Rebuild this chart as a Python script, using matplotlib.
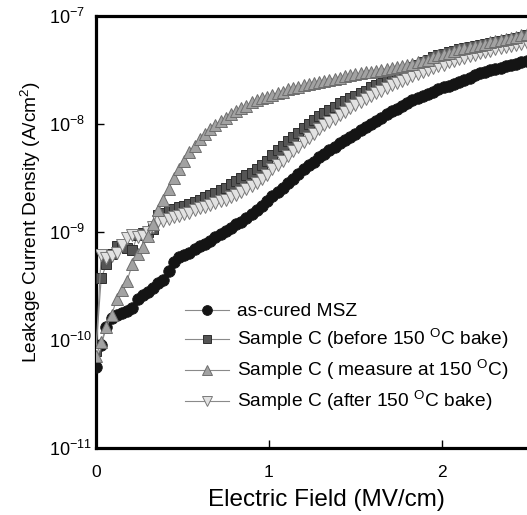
import numpy as np
import matplotlib
matplotlib.use("Agg")
import matplotlib.pyplot as plt
from matplotlib.ticker import FixedLocator, LogFormatterMathtext, NullLocator

plt.rcParams['font.family'] = ['Liberation Sans', 'DejaVu Sans']
plt.rcParams['mathtext.fontset'] = 'custom'
plt.rcParams['mathtext.rm'] = 'Liberation Sans'
plt.rcParams['mathtext.it'] = 'Liberation Sans:italic'
plt.rcParams['mathtext.bf'] = 'Liberation Sans:bold'

# Electric field sweep (MV/cm)
field = np.round(np.arange(0, 84) * 0.03, 2)

# log10 of leakage current density (A/cm^2)
log_as_cured = [
    -10.25, -10.05, -9.88, -9.80, -9.77, -9.75, -9.73, -9.70, -9.62, -9.58,
    -9.56, -9.52, -9.47, -9.44, -9.36, -9.28, -9.23, -9.21, -9.19, -9.16,
    -9.13, -9.11, -9.08, -9.05, -9.02, -8.99, -8.96, -8.93, -8.91, -8.87,
    -8.83, -8.80, -8.76, -8.71, -8.67, -8.63, -8.59, -8.55, -8.51, -8.46,
    -8.42, -8.38, -8.35, -8.31, -8.28, -8.24, -8.21, -8.18, -8.15, -8.12,
    -8.09, -8.06, -8.03, -8.00, -7.97, -7.94, -7.91, -7.88, -7.86, -7.83,
    -7.81, -7.78, -7.76, -7.74, -7.72, -7.70, -7.68, -7.66, -7.65, -7.63,
    -7.61, -7.59, -7.57, -7.55, -7.53, -7.52, -7.50, -7.49, -7.48, -7.46,
    -7.45, -7.44, -7.43, -7.42]

log_before_bake = [
    -10.10, -9.43, -9.30, -9.20, -9.13, -9.12, -9.15, -9.17, -9.03, -9.01,
    -9.00, -8.97, -8.84, -8.82, -8.80, -8.79, -8.77, -8.76, -8.74, -8.72,
    -8.70, -8.68, -8.66, -8.64, -8.61, -8.59, -8.56, -8.53, -8.50, -8.47,
    -8.45, -8.42, -8.38, -8.34, -8.29, -8.24, -8.20, -8.16, -8.12, -8.08,
    -8.04, -8.00, -7.96, -7.93, -7.90, -7.87, -7.84, -7.81, -7.79, -7.76,
    -7.74, -7.71, -7.69, -7.66, -7.64, -7.62, -7.59, -7.57, -7.55, -7.52,
    -7.50, -7.47, -7.45, -7.43, -7.41, -7.38, -7.36, -7.35, -7.33, -7.32,
    -7.31, -7.30, -7.29, -7.28, -7.27, -7.26, -7.25, -7.24, -7.23, -7.22,
    -7.21, -7.20, -7.19, -7.18]

log_at_150 = [
    -10.15, -10.02, -9.88, -9.77, -9.62, -9.54, -9.45, -9.30, -9.20, -9.14,
    -9.04, -8.93, -8.80, -8.70, -8.60, -8.50, -8.42, -8.34, -8.26, -8.20,
    -8.14, -8.09, -8.05, -8.01, -7.97, -7.94, -7.91, -7.88, -7.85, -7.83,
    -7.80, -7.78, -7.76, -7.75, -7.73, -7.71, -7.70, -7.68, -7.67, -7.66,
    -7.64, -7.63, -7.62, -7.61, -7.60, -7.59, -7.58, -7.57, -7.56, -7.55,
    -7.54, -7.53, -7.52, -7.52, -7.51, -7.50, -7.49, -7.48, -7.47, -7.46,
    -7.45, -7.44, -7.43, -7.42, -7.41, -7.38, -7.36, -7.35, -7.34, -7.32,
    -7.31, -7.30, -7.29, -7.28, -7.27, -7.26, -7.24, -7.23, -7.22, -7.21,
    -7.20, -7.19, -7.18, -7.17]

log_after_bake = [
    -10.10, -9.21, -9.24, -9.22, -9.19, -9.12, -9.06, -9.03, -9.05, -9.04,
    -9.00, -8.95, -8.90, -8.90, -8.88, -8.86, -8.85, -8.83, -8.82, -8.80,
    -8.78, -8.77, -8.75, -8.73, -8.71, -8.70, -8.68, -8.66, -8.63, -8.60,
    -8.57, -8.55, -8.51, -8.47, -8.42, -8.38, -8.34, -8.30, -8.25, -8.21,
    -8.17, -8.13, -8.09, -8.05, -8.01, -7.98, -7.95, -7.92, -7.89, -7.85,
    -7.82, -7.80, -7.77, -7.74, -7.71, -7.69, -7.67, -7.64, -7.62, -7.60,
    -7.58, -7.56, -7.54, -7.52, -7.50, -7.48, -7.46, -7.45, -7.43, -7.42,
    -7.40, -7.39, -7.37, -7.36, -7.34, -7.33, -7.32, -7.31, -7.30, -7.29,
    -7.28, -7.27, -7.26, -7.25]

labels = ['as-cured MSZ',
          r'Sample C (before 150 $^{\mathrm{O}}$C bake)',
          r'Sample C ( measure at 150 $^{\mathrm{O}}$C)',
          r'Sample C (after 150 $^{\mathrm{O}}$C bake)']

x_ticks = [0, 1, 2]
x_tick_labels = ['0', '1', '2']
y_ticks = [1e-11, 1e-10, 1e-9, 1e-8, 1e-7]

fig = plt.figure(figsize=(5.27, 5.15), dpi=100)
ax = fig.add_axes([96/527, 1 - 448/515, (556 - 96)/527, (448 - 16)/515])

line_color = '#8a8a8a'
h1, = ax.plot(field, 10.0**np.array(log_as_cured), color=line_color, lw=0.8,
              marker='o', ms=8.3, mfc='#141414', mec='#141414', mew=0.6, zorder=3)
h2, = ax.plot(field, 10.0**np.array(log_before_bake), color=line_color, lw=0.8,
              marker='s', ms=7.0, mfc='#555555', mec='#2e2e2e', mew=0.7, zorder=4)
h3, = ax.plot(field, 10.0**np.array(log_at_150), color=line_color, lw=0.8,
              marker='^', ms=8.5, mfc='#a2a2a2', mec='#6e6e6e', mew=0.7, zorder=6)
h4, = ax.plot(field, 10.0**np.array(log_after_bake), color=line_color, lw=0.8,
              marker='v', ms=8.5, mfc='#e2e2e2', mec='#7a7a7a', mew=0.7, zorder=5)

ax.set_yscale('log')
ax.set_ylim(1e-11, 1e-7)
ax.set_xlim(0, 2.66)
ax.xaxis.set_major_locator(FixedLocator(x_ticks))
ax.set_xticklabels(x_tick_labels)
ax.yaxis.set_major_locator(FixedLocator(y_ticks))
ax.yaxis.set_major_formatter(LogFormatterMathtext())
ax.yaxis.set_minor_locator(NullLocator())
ax.xaxis.set_minor_locator(NullLocator())

for side in ['left', 'bottom', 'top']:
    ax.spines[side].set_linewidth(2.3)
ax.spines['right'].set_visible(False)

ax.tick_params(axis='both', which='major', direction='in', length=6, width=1,
               top=False, right=False)
ax.tick_params(axis='x', labelsize=12.5, pad=12)
ax.tick_params(axis='y', labelsize=13, pad=34)
for lab in ax.get_yticklabels():
    lab.set_horizontalalignment('left')

ax.set_xlabel('Electric Field (MV/cm)', fontsize=17.5, labelpad=7)
ax.set_ylabel(r'Leakage Current Density (A/cm$^2$)', fontsize=13.8)
ax.yaxis.set_label_coords(-0.115, 0.523)

leg = ax.legend([h1, h2, h3, h4], labels, loc='upper left',
                bbox_to_anchor=(185/527, 1 - 303/515), bbox_transform=fig.transFigure,
                frameon=False, fontsize=13.8, handlelength=2.3, handletextpad=0.42,
                labelspacing=0.36, borderpad=0, borderaxespad=0, markerscale=0.85)

fig.savefig('out.png', dpi=100)
